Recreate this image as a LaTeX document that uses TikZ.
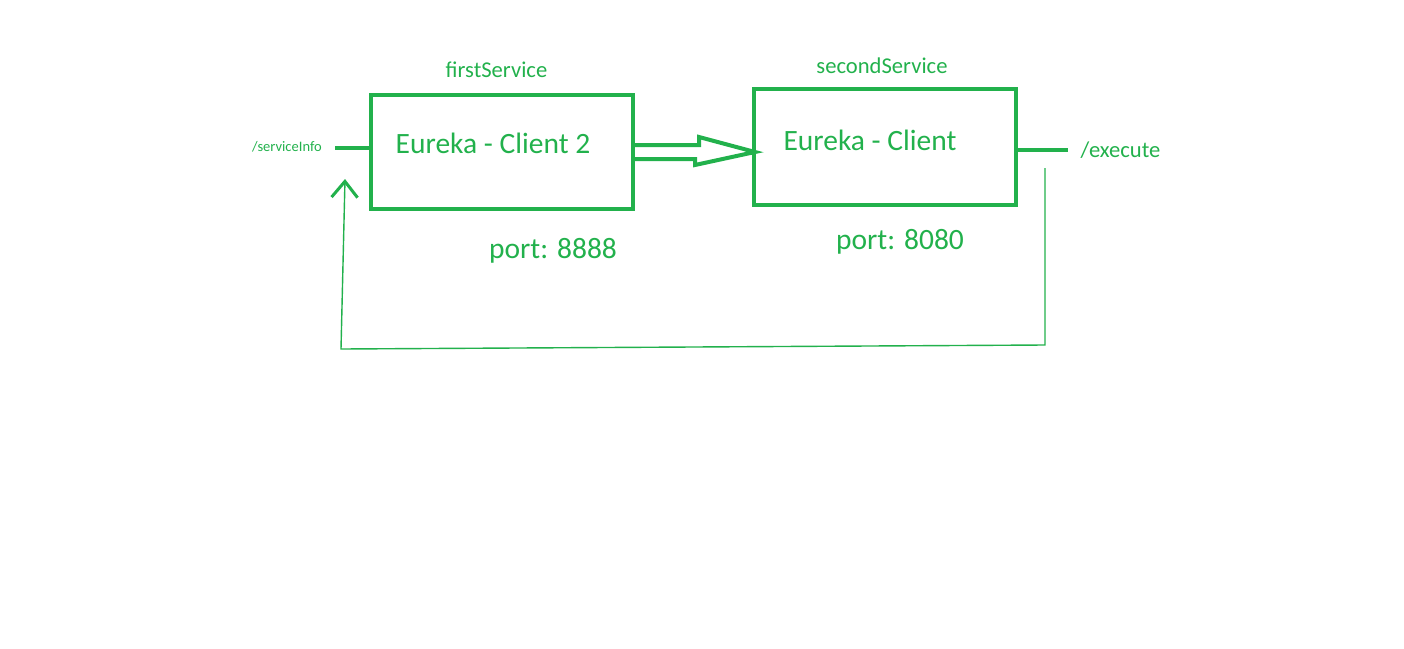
\documentclass[tikz,border=0pt]{standalone}
\usepackage{xcolor}
\usepackage{fontspec}
\setmainfont{Carlito}
\usepackage{tikz}
\usetikzlibrary{arrows.meta,positioning,calc}
\definecolor{vertPaint}{RGB}{34,177,76}

\begin{document}
\begin{tikzpicture}[x=1pt,y=-1pt,
  boite/.style={rectangle,draw=vertPaint,line width=4pt,minimum width=262pt,
                inner sep=0pt},
  grand/.style={text=vertPaint,inner sep=0pt,anchor=base,font=\fontsize{29.5}{34}\selectfont},
  moyen/.style={text=vertPaint,inner sep=0pt,anchor=base,font=\fontsize{22.6}{27}\selectfont},
  petit/.style={text=vertPaint,inner sep=0pt,anchor=base,font=\fontsize{14.5}{17}\selectfont},
  trait/.style={draw=vertPaint,line width=3.5pt},
  retour/.style={draw=vertPaint,line width=1.4pt,
                 -{Straight Barb[length=16pt,width=26pt,line width=3pt]}}]

  \useasboundingbox (0,0) rectangle (1404,648);

  \node[boite,minimum height=114pt] (client2) at (502,152) {};
  \node[boite,minimum height=116pt] (client)  at (885,147) {};

  \node[moyen] (nomPremier) at (496.5,77) {firstService};
  \node[moyen] (nomSecond)  at (882,73)   {secondService};
  \node[grand] (texteClient2) at (493,153) {Eureka - Client 2};
  \node[grand] (texteClient)  at (870,150) {Eureka - Client};
  \node[grand] (port2) at (553,258) {port: 8888};
  \node[grand] (port1) at (900,249) {port: 8080};
  \node[petit] (infoServ) at (287,151) {/serviceInfo};
  \node[moyen] (exec) at (1120.5,157) {/execute};

  \coordinate (entree) at (335,148);
  \coordinate (sortie) at (1068,150);
  \draw[trait] (entree) -- ([yshift=4pt]client2.west);
  \draw[trait] ([yshift=-3pt]client.east) -- (sortie);

  \coordinate (pointe) at ([yshift=-5pt]client.west);
  \draw[trait,line width=4pt,line join=miter]
    ([yshift=7pt]client2.east) -- ++(64,0) -- ++(0,-8) -- ($(pointe)+(3,0)$)
    -- ++(-60,13) -- ++(0,-6) -- ([yshift=-7pt]client2.east);

  \coordinate (depart)  at (1045,168);
  \coordinate (coinD)   at (1045,345);
  \coordinate (coinG)   at (341,349);
  \coordinate (arrivee) at (345,179);
  \draw[retour] (depart) -- (coinD) -- (coinG) -- (arrivee);
\end{tikzpicture}
\end{document}
